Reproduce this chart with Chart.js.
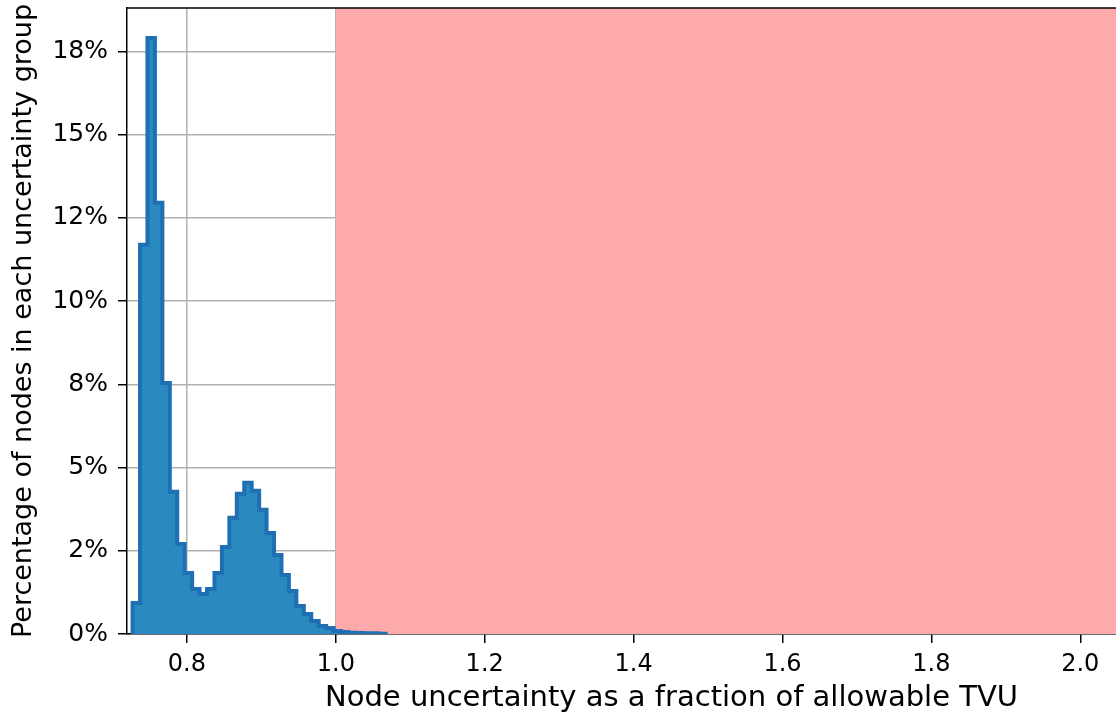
<!DOCTYPE html>
<html>
<head>
<meta charset="utf-8">
<script src="https://cdn.jsdelivr.net/npm/chart.js@4.4.1/dist/chart.umd.min.js"></script>
<style>
  html, body { margin: 0; padding: 0; background: #fff; }
  #wrap { width: 1116px; height: 717px; }
</style>
</head>
<body>
<div id="wrap"><canvas id="histo"></canvas></div>
<script>
// histogram data (fraction of nodes per uncertainty bin)
const binStart = 0.727;
const binWidth = 0.01;
const binValues = [0.0093, 0.1169, 0.1790, 0.1295, 0.0754, 0.0427, 0.0270, 0.0183, 0.0135, 0.0120,
                   0.0135, 0.0183, 0.0261, 0.0349, 0.0421, 0.0454, 0.0430, 0.0373, 0.0303, 0.0237,
                   0.0177, 0.0129, 0.0084, 0.0060, 0.0039, 0.0024, 0.0018, 0.0009, 0.0006, 0.0004,
                   0.0003, 0.0002, 0.0002, 0.0001];
const xTickValues = [0.8, 1.0, 1.2, 1.4, 1.6, 1.8, 2.0];
const xTickLabels = ['0.8', '1.0', '1.2', '1.4', '1.6', '1.8', '2.0'];
const yTickValues = [0, 0.025, 0.05, 0.075, 0.1, 0.125, 0.15, 0.175];
const yTickLabels = ['0%', '2%', '5%', '8%', '10%', '12%', '15%', '18%'];
const tvuLimit = 1.0;
const xTitle = 'Node uncertainty as a fraction of allowable TVU';

// step outline points built from the bins
const pts = [{ x: binStart, y: 0 }];
binValues.forEach(function(v, i) {
    pts.push({ x: binStart + i * binWidth, y: v });
});
pts.push({ x: binStart + binValues.length * binWidth, y: binValues[binValues.length - 1] });
pts.push({ x: binStart + binValues.length * binWidth, y: 0 });

Chart.defaults.font.family = "'DejaVu Sans', sans-serif";
Chart.defaults.font.size = 24;
Chart.defaults.color = '#000';

// pink zone beyond the allowable TVU, top spine, and the x label
// (the original axes run past the right edge of the picture, so its label sits right of centre)
const zonePlugin = {
    id: 'zone',
    beforeDatasetsDraw(chart) {
        const c = chart.ctx, a = chart.chartArea;
        const x0 = chart.scales.x.getPixelForValue(tvuLimit);
        c.save();
        c.fillStyle = '#ffaaaa';
        c.fillRect(x0, a.top, a.right - x0, a.bottom - a.top);
        c.restore();
    },
    afterDraw(chart) {
        const c = chart.ctx, a = chart.chartArea;
        c.save();
        c.strokeStyle = '#000';
        c.lineWidth = 1.5;
        c.beginPath();
        c.moveTo(a.left, a.top);
        c.lineTo(a.right + 2, a.top);
        c.stroke();
        c.fillStyle = '#000';
        c.font = "29px 'DejaVu Sans', sans-serif";
        c.textAlign = 'center';
        c.textBaseline = 'middle';
        c.fillText(xTitle, (a.left + a.right) / 2 + 50, chart.height - 19);
        c.restore();
    }
};

new Chart(document.getElementById('histo'), {
    type: 'line',
    data: {
        datasets: [{
            data: pts,
            stepped: 'before',
            fill: 'origin',
            backgroundColor: '#2a8abf',
            borderColor: '#1f6fb4',
            borderWidth: 4,
            pointRadius: 0
        }]
    },
    options: {
        responsive: true,
        maintainAspectRatio: false,
        animation: false,
        layout: { padding: { left: 0, right: 0, top: 8, bottom: 0 } },
        plugins: { legend: { display: false }, tooltip: { enabled: false } },
        scales: {
            x: {
                type: 'linear',
                min: 0.7195,
                max: 2.048,
                z: 1,
                afterBuildTicks: function(s) { s.ticks = xTickValues.map(v => ({ value: v })); },
                afterFit: function(s) { s.height = 83; s.paddingLeft = 0; s.paddingRight = 0; },
                ticks: {
                    padding: 7,
                    maxRotation: 0,
                    callback: function(v, i) { return xTickLabels[i]; }
                },
                grid: { color: '#b0b0b0', lineWidth: 1.5, tickColor: '#000', tickLength: 9 },
                border: { color: '#000', width: 1.5 },
                title: { display: false, text: xTitle }
            },
            y: {
                min: 0,
                max: 0.188,
                z: 1,
                afterBuildTicks: function(s) { s.ticks = yTickValues.map(v => ({ value: v })); },
                afterFit: function(s) { s.width = 127; s.paddingTop = 0; s.paddingBottom = 0; },
                ticks: {
                    padding: 10,
                    font: { size: 25 },
                    callback: function(v, i) { return yTickLabels[i]; }
                },
                grid: { color: '#b0b0b0', lineWidth: 1.5, tickColor: '#000', tickLength: 9 },
                border: { color: '#000', width: 1.5 },
                title: {
                    display: true,
                    text: 'Percentage of nodes in each uncertainty group',
                    font: { size: 27 },
                    padding: { top: 8, bottom: 0 }
                }
            }
        }
    },
    plugins: [zonePlugin]
});
</script>
</body>
</html>
